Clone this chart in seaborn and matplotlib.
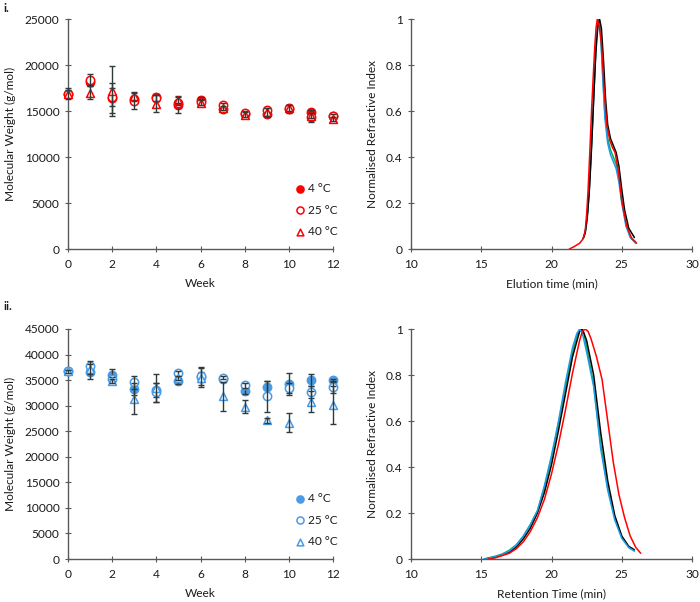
import numpy as np
import pandas as pd
import matplotlib
matplotlib.use("Agg")
import matplotlib.pyplot as plt
import seaborn as sns

sns.set_theme(style="white")
plt.rcParams['font.family'] = ['Lato', 'DejaVu Sans']

# ---------------- data ----------------
weeks = [0, 1, 2, 3, 4, 5, 6, 7, 8, 9, 10, 11, 12]
temps = ["4 °C", "25 °C", "40 °C"]

# panel i (g/mol)
mw_i_4 = [16900, 18100, 16400, 16300, 16500, 15700, 16200, 15200, 14700, 14700, 15200, 14900, 14500]
mw_i_25 = [16900, 18400, 16500, 16100, 16400, 15900, 16000, 15600, 14800, 15100, 15300, 14300, 14500]
mw_i_40 = [16900, 17000, 17200, 16600, 15800, 16200, 15900, 15300, 14600, 14900, 15300, 14500, 14100]
err_i_4 = [300, 400, 1600, 300, 300, 900, 300, 200, 300, 300, 400, 200, 200]
err_i_25 = [400, 600, 1000, 900, 300, 300, 300, 300, 200, 200, 300, 500, 200]
err_i_40 = [600, 700, 2700, 500, 900, 300, 300, 200, 300, 400, 300, 300, 200]

# panel ii (g/mol)
mw_ii_4 = [36700, 36500, 36000, 33300, 33100, 34900, 35600, 35300, 32900, 33600, 34200, 35000, 35000]
mw_ii_25 = [36700, 37800, 35200, 34600, 32600, 36300, 35800, 35500, 34000, 31800, 33400, 32700, 33700]
mw_ii_40 = [36700, 37200, 34900, 31400, 33500, 35500, 35500, 31800, 29800, 27100, 26700, 30800, 30100]
err_ii_4 = [300, 1300, 1100, 1200, 1400, 600, 1000, 300, 700, 1300, 2100, 1200, 300]
err_ii_25 = [300, 900, 400, 1300, 1900, 400, 1700, 300, 500, 3000, 1000, 1200, 1200]
err_ii_40 = [300, 1000, 400, 3000, 2700, 400, 1900, 2800, 1300, 500, 1900, 2100, 3700]

# chromatograms, panel i (elution time, min)
t_i_red = [21.27, 21.6, 22.0, 22.26, 22.4, 22.5, 22.6, 22.74, 22.85, 22.97, 23.08, 23.17, 23.26,
           23.4, 23.57, 23.74, 23.93, 24.16, 24.35, 24.52, 24.76, 25.0, 25.35, 25.71, 26.06]
ri_i_red = [0.0, 0.01, 0.025, 0.045, 0.08, 0.15, 0.25, 0.44, 0.60, 0.75, 0.88, 0.96, 1.0,
            0.97, 0.88, 0.70, 0.54, 0.47, 0.44, 0.42, 0.34, 0.21, 0.10, 0.045, 0.025]
t_i_black = [22.24, 22.4, 22.55, 22.7, 22.85, 23.0, 23.15, 23.3, 23.42, 23.55, 23.7, 23.85, 24.0,
             24.2, 24.4, 24.6, 24.8, 25.0, 25.2, 25.5, 25.9]
ri_i_black = [0.045, 0.07, 0.14, 0.26, 0.44, 0.65, 0.85, 0.97, 1.0, 0.96, 0.82, 0.65, 0.54,
              0.48, 0.45, 0.42, 0.36, 0.26, 0.17, 0.09, 0.05]
t_i_blue = [22.3, 22.45, 22.6, 22.75, 22.9, 23.05, 23.2, 23.35, 23.5, 23.65, 23.8, 24.0, 24.2,
            24.4, 24.6, 24.8, 25.0, 25.3, 25.6, 26.0]
ri_i_blue = [0.05, 0.09, 0.18, 0.33, 0.52, 0.73, 0.92, 1.0, 0.93, 0.74, 0.57, 0.46, 0.41,
             0.38, 0.35, 0.29, 0.20, 0.10, 0.05, 0.025]
t_i_green = [22.3, 22.45, 22.6, 22.75, 22.9, 23.05, 23.2, 23.35, 23.5, 23.65, 23.8, 24.0, 24.2,
             24.4, 24.6, 24.8, 25.0, 25.3, 25.6, 26.0]
ri_i_green = [0.05, 0.09, 0.18, 0.33, 0.52, 0.73, 0.92, 1.0, 0.94, 0.76, 0.59, 0.48, 0.43,
              0.40, 0.37, 0.31, 0.21, 0.11, 0.055, 0.03]

# chromatograms, panel ii (retention time, min)
t_ii_blue = [15.2, 16.0, 16.5, 17.0, 17.5, 18.0, 18.5, 19.0, 19.5, 20.0, 20.5, 21.0, 21.5, 21.8,
             22.0, 22.2, 22.5, 23.0, 23.5, 24.0, 24.5, 25.0, 25.5, 25.9]
ri_ii_blue = [0.0, 0.01, 0.02, 0.035, 0.06, 0.10, 0.15, 0.21, 0.32, 0.45, 0.60, 0.77, 0.92, 0.98,
              1.0, 0.98, 0.90, 0.75, 0.48, 0.30, 0.17, 0.09, 0.05, 0.035]
t_ii_green = [15.2, 16.0, 16.5, 17.0, 17.5, 18.0, 18.5, 19.0, 19.5, 20.0, 20.5, 21.0, 21.5, 21.8,
              22.1, 22.3, 22.5, 23.0, 23.5, 24.0, 24.5, 25.0, 25.5, 25.9]
ri_ii_green = [0.0, 0.012, 0.022, 0.038, 0.062, 0.10, 0.15, 0.21, 0.31, 0.44, 0.59, 0.75, 0.90, 0.97,
               1.0, 0.98, 0.92, 0.76, 0.50, 0.31, 0.18, 0.095, 0.05, 0.035]
t_ii_black = [15.3, 16.0, 16.5, 17.0, 17.5, 18.0, 18.5, 19.0, 19.5, 20.0, 20.5, 21.0, 21.5, 22.0,
              22.2, 22.5, 23.0, 23.5, 24.0, 24.5, 25.0, 25.5, 25.9]
ri_ii_black = [0.0, 0.008, 0.017, 0.03, 0.052, 0.088, 0.135, 0.20, 0.29, 0.41, 0.56, 0.72, 0.88, 0.99,
               1.0, 0.95, 0.80, 0.55, 0.34, 0.19, 0.10, 0.055, 0.04]
t_ii_red = [15.5, 16.0, 16.5, 17.0, 17.5, 18.0, 18.5, 19.0, 19.5, 20.0, 20.5, 21.0, 21.5, 22.0,
            22.2, 22.4, 22.6, 22.8, 23.2, 23.6, 24.0, 24.4, 24.8, 25.2, 25.6, 26.0, 26.35]
ri_ii_red = [0.0, 0.005, 0.015, 0.025, 0.045, 0.075, 0.12, 0.18, 0.26, 0.37, 0.50, 0.65, 0.81, 0.95,
             0.99, 1.0, 0.99, 0.96, 0.88, 0.78, 0.60, 0.42, 0.28, 0.18, 0.10, 0.05, 0.025]

# ---------------- styling ----------------
RED = "#FF0000"
BLUE = "#4A9BE6"
ERRC = "#2F3B3B"
TXT = "#1A1A1A"
AXC = "#595959"
FS = 8.6

W, H = 700, 602
fig = plt.figure(figsize=(W / 100, H / 100), dpi=100)

def frac(l, r, t, b):
    return [l / W, 1 - b / H, (r - l) / W, (b - t) / H]

ax_tl = fig.add_axes(frac(68, 333, 19, 249))
ax_bl = fig.add_axes(frac(68, 333, 329, 559))
ax_tr = fig.add_axes(frac(411, 692, 19, 249))
ax_br = fig.add_axes(frac(411, 692, 329, 559))


def style(ax):
    for s in ["top", "right"]:
        ax.spines[s].set_visible(False)
    for s in ["left", "bottom"]:
        ax.spines[s].set_color(AXC)
        ax.spines[s].set_linewidth(1.0)
    ax.tick_params(axis="both", which="both", direction="inout", length=4, width=0.8,
                   color=AXC, labelsize=FS, labelcolor=TXT, left=True, bottom=True)
    ax.tick_params(axis="x", pad=5)
    ax.tick_params(axis="y", pad=4)
    ax.grid(False)


def mw_panel(ax, series, color, ymax, ystep, legend_anchor):
    for i, (vals, errs, marker, filled) in enumerate(series):
        df = pd.DataFrame({"Week": weeks, "MW": vals, "Temp": temps[i]})
        fc = color if filled else "white"
        sns.scatterplot(data=df, x="Week", y="MW", ax=ax, marker=marker, s=36 if marker == "o" else 32,
                        color=fc, edgecolor=color, linewidth=1.1, zorder=3 + i, label=temps[i],
                        clip_on=False)
        eb = ax.errorbar(weeks, vals, yerr=errs, fmt="none", ecolor=ERRC, elinewidth=1.0,
                         capsize=2.5, capthick=1.0, zorder=3.5 + i)
        for art in list(eb.lines[1]) + list(eb.lines[2]):
            art.set_clip_on(False)
    ax.set_xlim(0, 12)
    ax.set_ylim(0, ymax)
    ax.set_xticks(range(0, 13, 2))
    ax.set_yticks(np.arange(0, ymax + 1, ystep))
    ax.set_xlabel("Week", fontsize=FS, color=TXT, labelpad=6)
    ax.set_ylabel("Molecular Weight (g/mol)", fontsize=FS, color=TXT, labelpad=6)
    leg = ax.legend(loc="lower right", bbox_to_anchor=legend_anchor, frameon=False, fontsize=FS,
                    labelspacing=0.9, handletextpad=0.05, handlelength=1.2, borderaxespad=0,
                    markerscale=0.85)
    for tx in leg.get_texts():
        tx.set_color(TXT)
    style(ax)


mw_panel(ax_tl, [(mw_i_4, err_i_4, "o", True), (mw_i_25, err_i_25, "o", False),
                 (mw_i_40, err_i_40, "^", False)], RED, 25000, 5000, (1.035, 0.03))
mw_panel(ax_bl, [(mw_ii_4, err_ii_4, "o", True), (mw_ii_25, err_ii_25, "o", False),
                 (mw_ii_40, err_ii_40, "^", False)], BLUE, 45000, 5000, (1.035, 0.03))


def chrom_panel(ax, curves, xlabel):
    for t, v, c in curves:
        sns.lineplot(x=t, y=v, ax=ax, color=c, linewidth=1.1, sort=False, estimator=None)
    ax.set_xlim(10, 30)
    ax.set_ylim(0, 1)
    ax.set_xticks([10, 15, 20, 25, 30])
    ax.set_yticks([0, 0.2, 0.4, 0.6, 0.8, 1])
    ax.set_yticklabels(["0", "0.2", "0.4", "0.6", "0.8", "1"])
    ax.set_xlabel(xlabel, fontsize=FS, color=TXT, labelpad=6)
    ax.set_ylabel("Normalised Refractive Index", fontsize=FS, color=TXT, labelpad=6)
    style(ax)


chrom_panel(ax_tr, [(t_i_green, ri_i_green, "#00B050"), (t_i_blue, ri_i_blue, "#1E9BE8"),
                    (t_i_black, ri_i_black, "#000000"), (t_i_red, ri_i_red, RED)],
            "Elution time (min)")
chrom_panel(ax_br, [(t_ii_green, ri_ii_green, "#00B050"), (t_ii_black, ri_ii_black, "#000000"),
                    (t_ii_blue, ri_ii_blue, "#1E9BE8"), (t_ii_red, ri_ii_red, RED)],
            "Retention Time (min)")

fig.text(3 / W, 1 - 3 / H, "i.", fontsize=FS, fontweight="bold", color=TXT, va="top", ha="left")
fig.text(3 / W, 1 - 301 / H, "ii.", fontsize=FS, fontweight="bold", color=TXT, va="top", ha="left")

fig.savefig("out.png", dpi=100, facecolor="white")
